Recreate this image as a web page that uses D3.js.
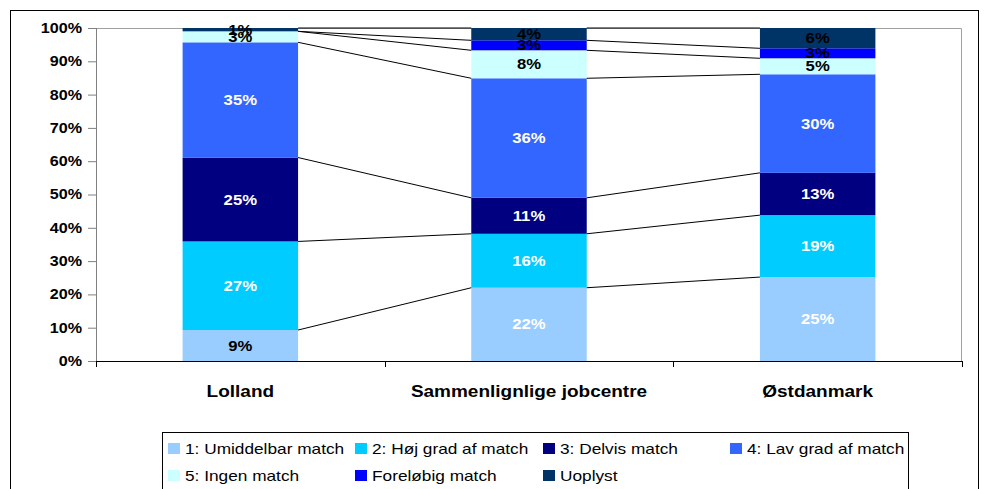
<!DOCTYPE html>
<html>
<head>
<meta charset="utf-8">
<script src="https://cdn.jsdelivr.net/npm/d3@7"></script>
<style>
  body { margin: 0; background: #fff; }
  text { font-family: Arial, "Liberation Sans", sans-serif; }
</style>
</head>
<body>
<div class="chart"></div>
<script>
// data (percent)
var categories = ["Lolland", "Sammenlignlige jobcentre", "Østdanmark"];
var seriesNames = ["1: Umiddelbar match", "2: Høj grad af match", "3: Delvis match",
  "4: Lav grad af match", "5: Ingen match", "Foreløbig match", "Uoplyst"];
var seriesColors = ["#99CCFF", "#00CCFF", "#000080", "#3366FF", "#CCFFFF", "#0000FF", "#003366"];
var umiddelbar = [9.3, 22.0, 25.2];
var hoejGrad   = [26.6, 16.2, 18.6];
var delvis     = [25.2, 10.8, 12.7];
var lavGrad    = [34.6, 35.9, 29.6];
var ingen      = [3.3, 8.4, 4.8];
var foreloebig = [0, 3.0, 3.0];
var uoplyst    = [1.0, 3.7, 6.1];
var yTicks = [0, 10, 20, 30, 40, 50, 60, 70, 80, 90, 100];

var width = 984, height = 489;
var margin = {top: 28, right: 22, bottom: 128, left: 96};
var plotW = width - margin.left - margin.right,
    plotH = height - margin.top - margin.bottom;

var values = [umiddelbar, hoejGrad, delvis, lavGrad, ingen, foreloebig, uoplyst];
var rows = categories.map(function(c, i){
  var r = {cat: c};
  seriesNames.forEach(function(s, k){ r[s] = values[k][i]; });
  return r;
});
var stacked = d3.stack().keys(seriesNames)(rows);

var svg = d3.select(".chart").append("svg")
    .attr("width", width)
    .attr("height", height);

// outer frame
svg.append("rect")
    .attr("x", 10.5).attr("y", 10.5)
    .attr("width", 968).attr("height", 500)
    .attr("fill", "none").attr("stroke", "#000").attr("stroke-width", 1);

var g = svg.append("g").attr("transform", "translate(" + margin.left + "," + margin.top + ")");

var x = d3.scaleBand().domain(categories).range([0, plotW])
    .paddingInner(0.6).paddingOuter(0.3);
var y = d3.scaleLinear().domain([0, 100]).range([plotH, 0]);

// plot area border (top, right)
g.append("path")
    .attr("d", "M0,0.5H" + (plotW - 0.5) + "V" + plotH)
    .attr("fill", "none").attr("stroke", "#a0a0a0");

// bars
var layers = g.selectAll(".layer").data(stacked).enter().append("g")
    .attr("fill", function(d, k){ return seriesColors[k]; });

layers.selectAll("rect").data(function(d){ return d; }).enter().append("rect")
    .attr("x", function(d){ return x(d.data.cat); })
    .attr("width", x.bandwidth())
    .attr("y", function(d){ return y(d[1]); })
    .attr("height", function(d){ return y(d[0]) - y(d[1]); });

// series lines between neighbouring bars
stacked.forEach(function(layer){
  for (var i = 0; i < layer.length - 1; i++) {
    g.append("line")
        .attr("x1", x(categories[i]) + x.bandwidth())
        .attr("y1", y(layer[i][1]))
        .attr("x2", x(categories[i + 1]))
        .attr("y2", y(layer[i + 1][1]))
        .attr("stroke", "#000").attr("stroke-width", 1);
  }
});

// axes
var yAxis = d3.axisLeft(y).tickValues(yTicks).tickSize(8).tickPadding(6)
    .tickFormat(function(d){ return d + "%"; });
var ya = g.append("g").call(yAxis);
ya.select(".domain").attr("stroke", "#808080").attr("d", "M0.5," + (plotH + 3) + "V0");
ya.selectAll(".tick line").attr("stroke", "#808080");
ya.selectAll("text").attr("font-size", 14).attr("font-weight", "bold").attr("fill", "#000")
    .attr("class", "stretch");

var xAxis = d3.axisBottom(x).tickSize(0).tickPadding(24);
var xa = g.append("g").attr("transform", "translate(0," + plotH + ")").call(xAxis);
xa.select(".domain").attr("stroke", "#000").attr("d", "M0,0.5H" + plotW);
xa.selectAll("text").attr("font-size", 16.5).attr("font-weight", "bold").attr("fill", "#000")
    .attr("class", "stretch");
// tick marks between categories
var bounds = [0, 1, 2, 3].map(function(i){ return i * x.step(); });
xa.selectAll(".sep").data(bounds).enter().append("line")
    .attr("x1", function(d){ return Math.round(d) + 0.5; })
    .attr("x2", function(d){ return Math.round(d) + 0.5; })
    .attr("y1", 0).attr("y2", 6).attr("stroke", "#000");

// value labels
layers.each(function(layer){
  d3.select(this).selectAll("text").data(layer.filter(function(d){ return d[1] - d[0] > 0; }))
    .enter().append("text")
      .attr("class", "stretch")
      .attr("x", function(d){ return x(d.data.cat) + x.bandwidth() / 2; })
      .attr("y", function(d){ return y((d[0] + d[1]) / 2); })
      .attr("dy", "0.35em")
      .attr("text-anchor", "middle")
      .attr("font-size", 14.5).attr("font-weight", "bold")
      .attr("fill", function(d){ return Math.round(d[1] - d[0]) >= 10 ? "#fff" : "#000"; })
      .text(function(d){ return Math.round(d[1] - d[0]) + "%"; });
});

// legend
var legend = svg.append("g").attr("transform", "translate(162,432)");
legend.append("rect")
    .attr("x", 0.5).attr("y", 0.5).attr("width", 746).attr("height", 80)
    .attr("fill", "#fff").attr("stroke", "#000");
var colX = [6, 193, 381, 568];
var items = legend.selectAll(".item").data(seriesNames).enter().append("g")
    .attr("transform", function(d, i){
      return "translate(" + colX[i % 4] + "," + (i < 4 ? 11 : 38) + ")";
    });
items.append("rect")
    .attr("width", 12).attr("height", 11)
    .attr("fill", function(d, i){ return seriesColors[i]; });
items.append("text")
    .attr("class", "stretch")
    .attr("x", 17).attr("y", 10.5)
    .attr("font-size", 15)
    .text(function(d){ return d; });

// the reference text is drawn a little wider than the font
svg.selectAll("text.stretch").each(function(){
  var w = this.getComputedTextLength();
  d3.select(this).attr("textLength", w * 1.15).attr("lengthAdjust", "spacingAndGlyphs");
});
</script>
</body>
</html>
